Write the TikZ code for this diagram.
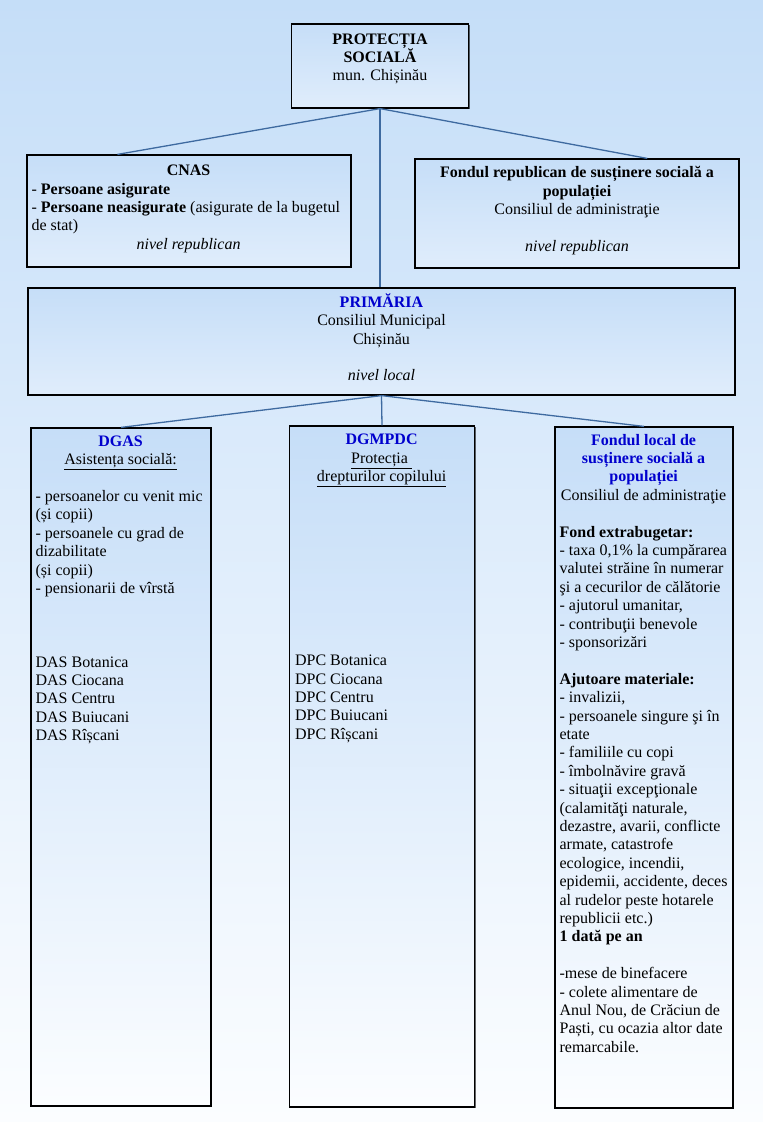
\documentclass[tikz,border=0pt]{standalone}
\usepackage{fontspec}
\setmainfont{Liberation Serif}
\usetikzlibrary{positioning, calc, shadows}
\definecolor{bgtop}{RGB}{197,222,248}
\definecolor{bgbot}{RGB}{251,253,255}
\definecolor{boxtop}{RGB}{198,222,248}
\definecolor{linkblue}{RGB}{62,106,160}
\definecolor{headblue}{RGB}{0,0,205}
\tikzset{
  orgbox/.style={draw=black, line width=1.2pt, top color=boxtop,
    bottom color=boxtop!55!white, inner sep=0pt,
    drop shadow={shadow xshift=1.2pt, shadow yshift=-1.2pt, fill=black, opacity=0.6}},
  tallbox/.style={orgbox, bottom color=bgbot},
  boxtext/.style={inner sep=0pt, font=\fontsize{16pt}{18.4pt}\selectfont},
  connector/.style={draw=linkblue, line width=1.3pt}
}
\newcommand{\ctrline}[2]{\makebox[#1]{#2}}
\newcommand{\head}[1]{\textcolor{headblue}{\textbf{#1}}}

\begin{document}
\begin{tikzpicture}[x=1pt, y=-1pt]
  % Background
  \shade[top color=bgtop, bottom color=bgbot] (0,0) rectangle (763,1122);
  \useasboundingbox (0,0) rectangle (763,1122);

  % Place the boxes
  \node[orgbox, minimum width=177pt, minimum height=84pt] (prot) at (380,66) {};
  \node[orgbox, minimum width=324pt, minimum height=112pt] (cnas) at (189,211) {};
  \node[orgbox, minimum width=324pt, minimum height=109pt] (frep) at (577,213.5) {};
  \node[orgbox, minimum width=707pt, minimum height=107pt] (primaria) at (381.5,341.5) {};
  \node[tallbox, minimum width=180pt, minimum height=678pt] (dgas) at (121,767) {};
  \node[tallbox, minimum width=185pt, minimum height=681pt] (dgmpdc) at (382,766.5) {};
  \node[tallbox, minimum width=178pt, minimum height=681pt] (flocal) at (644,767.5) {};

  % Texts of the boxes
  \node[boxtext, align=center, below=10pt of prot.north] (prottext)
    {\textbf{PROTECȚIA}\\ \textbf{SOCIALĂ}\\ mun. Chișinău};
  \node[boxtext, align=left, below right=10.5pt and 5pt of cnas.north west] (cnastext) {%
    \ctrline{314pt}{\textbf{CNAS}}\\
    - \textbf{Persoane asigurate}\\
    - \textbf{Persoane neasigurate} (asigurate de la bugetul\\
    de stat)\\
    \ctrline{314pt}{\textit{nivel republican}}};
  \node[boxtext, align=center, below=7.8pt of frep.north] (freptext)
    {\textbf{Fondul republican de susținere socială a}\\ \textbf{populației}\\
     Consiliul de administraţie\\ \mbox{}\\ \textit{nivel republican}};
  \node[boxtext, align=center, below=5.8pt of primaria.north] (primtext)
    {\head{PRIMĂRIA}\\ Consiliul Municipal\\ Chișinău\\ \mbox{}\\ \textit{nivel local}};
  \node[boxtext, align=left, below right=8pt and 5pt of dgas.north west] (dgastext) {%
    \ctrline{170pt}{\head{DGAS}}\\
    \ctrline{170pt}{\underline{Asistența socială:}}\\
    \mbox{}\\
    - persoanelor cu venit mic\\
    (și copii)\\
    - persoanele cu grad de\\
    dizabilitate\\
    (și copii)\\
    - pensionarii de vîrstă\\
    \mbox{}\\ \mbox{}\\ \mbox{}\\
    DAS Botanica\\
    DAS Ciocana\\
    DAS Centru\\
    DAS Buiucani\\
    DAS Rîșcani};
  \node[boxtext, align=left, below right=8.7pt and 6pt of dgmpdc.north west] (dgmpdctext) {%
    \ctrline{173pt}{\head{DGMPDC}}\\
    \ctrline{173pt}{\underline{Protecția\ }}\\
    \ctrline{173pt}{\underline{drepturilor copilului}}\\
    \mbox{}\\ \mbox{}\\ \mbox{}\\ \mbox{}\\ \mbox{}\\ \mbox{}\\ \mbox{}\\ \mbox{}\\ \mbox{}\\
    DPC Botanica\\
    DPC Ciocana\\
    DPC Centru\\
    DPC Buiucani\\
    DPC Rîșcani};
  \node[boxtext, align=left, below right=7.3pt and 5pt of flocal.north west] (flocaltext) {%
    \ctrline{168pt}{\head{Fondul local de}}\\
    \ctrline{168pt}{\head{susținere socială a}}\\
    \ctrline{168pt}{\head{populației}}\\
    \ctrline{168pt}{Consiliul de administraţie}\\
    \mbox{}\\
    \textbf{Fond extrabugetar:}\\
    - taxa 0,1\% la cumpărarea\\
    valutei străine în numerar\\
    şi a cecurilor de călătorie\\
    - ajutorul umanitar,\\
    - contribuţii benevole\\
    - sponsorizări\\
    \mbox{}\\
    \textbf{Ajutoare materiale:}\\
    - invalizii,\\
    - persoanele singure şi în\\
    etate\\
    - familiile cu copi\\
    - îmbolnăvire gravă\\
    - situaţii excepţionale\\
    (calamităţi naturale,\\
    dezastre, avarii, conflicte\\
    armate, catastrofe\\
    ecologice, incendii,\\
    epidemii, accidente, deces\\
    al rudelor peste hotarele\\
    republicii etc.)\\
    \textbf{1 dată pe an}\\
    \mbox{}\\
    -mese de binefacere\\
    - colete alimentare de\\
    Anul Nou, de Crăciun de\\
    Paști, cu ocazia altor date\\
    remarcabile.};

  % Connect the boxes
  \draw[connector] (prot.south) -- ($(cnas.north west)!0.28!(cnas.north east)$);
  \draw[connector] (prot.south) -- ($(frep.north west)!0.716!(frep.north east)$);
  \draw[connector] (prot.south) -- (prot.south |- primaria.north);
  \draw[connector] (primaria.south) -- (dgas.north);
  \draw[connector] (primaria.south) -- (dgmpdc.north);
  \draw[connector] (primaria.south) -- (flocal.north);
\end{tikzpicture}
\end{document}
